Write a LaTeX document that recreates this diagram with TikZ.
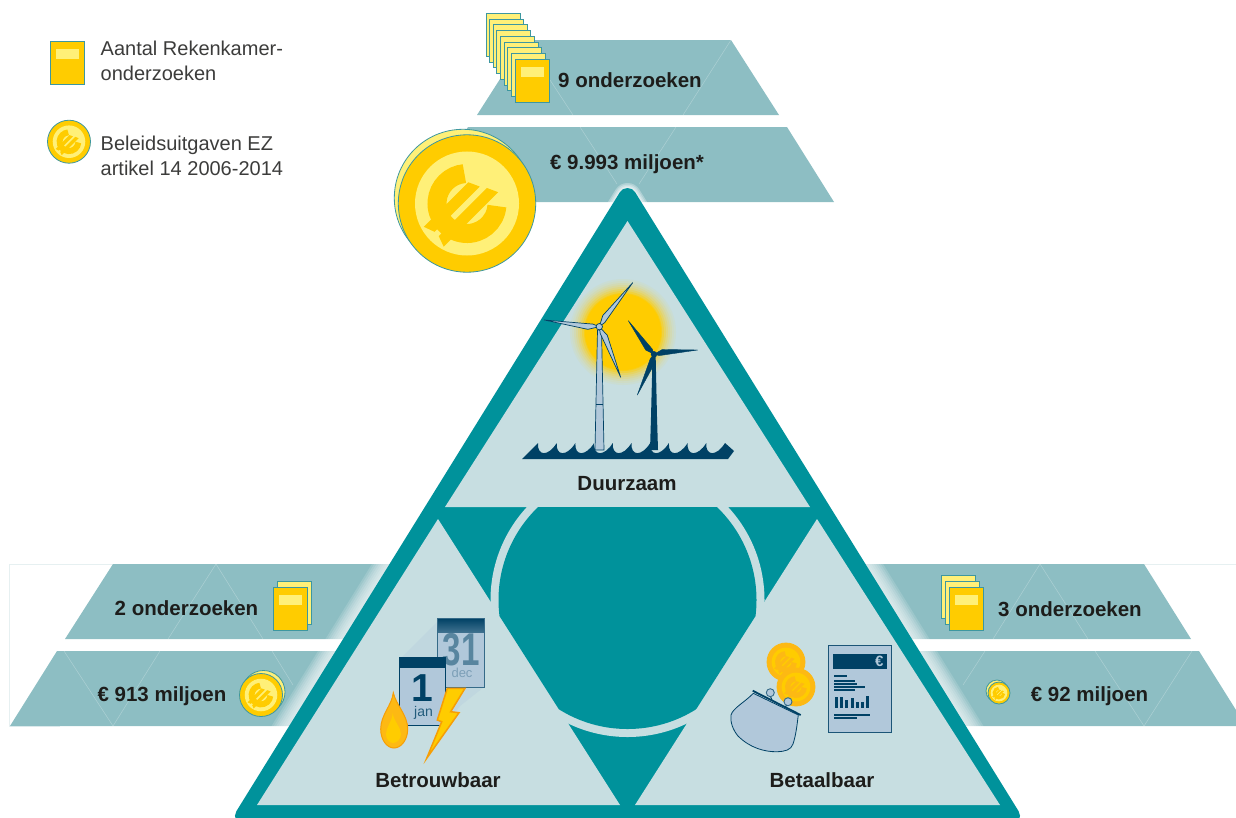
\documentclass[tikz,border=0pt]{standalone}
\usepackage{fontspec}
\setmainfont{Liberation Sans}
\usetikzlibrary{calc}
\definecolor{teal0}{HTML}{00929B}
\definecolor{pale0}{HTML}{C7DEE1}
\definecolor{strip0}{HTML}{8DBEC3}
\definecolor{coinY}{HTML}{FFCC00}
\definecolor{coinL}{HTML}{FFF078}
\definecolor{edge0}{HTML}{3D97A0}
\definecolor{navy0}{HTML}{004165}
\definecolor{steel0}{HTML}{B1C8DA}
\definecolor{ink0}{HTML}{1D1D1B}
\definecolor{ink1}{HTML}{3C3C3B}
\definecolor{orange0}{HTML}{F39200}
\definecolor{orange1}{HTML}{FDB913}
\definecolor{frame0}{HTML}{E6F0F1}
\tikzset{
  boldlab/.style={font=\fontsize{20.5}{24}\selectfont\bfseries,text=ink0,anchor=base,inner sep=0pt},
  leglab/.style={font=\fontsize{20}{24}\selectfont,text=ink1,anchor=base west,inner sep=0pt},
  gridline/.style={white,opacity=.28,line width=.5pt},
  striparea/.style={fill=strip0},
  paperback/.style={fill=coinL,draw=edge0,line width=.8pt},
  paperfront/.style={fill=coinY,draw=edge0,line width=.8pt},
  bladelight/.style={fill=steel0,draw=navy0,line width=.7pt,line join=round},
  bladedark/.style={fill=navy0,draw=navy0,line width=.4pt,line join=round},
  bar0/.style={fill=navy0}
}
\newcommand\backfolder[2]{\filldraw[paperback] (#1,#2) rectangle ++(34,43);}
\newcommand\frontfolder[2]{\filldraw[paperfront] (#1,#2) rectangle ++(34,43);\fill[coinL] (#1+6,#2+8) rectangle ++(23,10);}
\newcommand\coinbase[7]{%
  \filldraw[fill=#4,draw=#5,line width=.8pt] (#1,#2) circle[radius=#3];
  \fill[#6] (#1,#2) circle[radius=.757*#3];
  \begin{scope}[shift={(#1,#2)},rotate=45,scale=#3/68.7]
    \draw[#7,line width={19*#3/68.7*1pt}] (50:30) arc[start angle=50,end angle=310,radius=30];
    \fill[#7] (-47,-14) -- (16,-14) -- (21,-3) -- (-43,-3) -- cycle;
    \fill[#7] (-43,3) -- (25,3) -- (30,14) -- (-47,14) -- cycle;
  \end{scope}}
\newcommand\goldcoin[3]{\coinbase{#1}{#2}{#3}{coinY}{edge0}{coinL}{coinY}}
\newcommand\purecoin[3]{\coinbase{#1}{#2}{#3}{orange1}{orange1}{coinY}{orange1}}
\newcommand\backcoin[3]{\filldraw[fill=coinL,draw=edge0,line width=.8pt] (#1,#2) circle[radius=#3];}
\newcommand\blade[5]{\path[#5] (#1,#2) -- ($(#1,#2)!.2!(#3,#4)!4pt!90:(#3,#4)$) -- (#3,#4) -- ($(#1,#2)!.12!(#3,#4)!-1.8pt!90:(#3,#4)$) -- cycle;}
\begin{document}
\begin{tikzpicture}[x=1pt,y=-1pt]
\clip (0,0) rectangle (1236,817);
% faint frames
\draw[frame0,line width=.7pt] (113,564) -- (9.5,564) -- (9.5,726) -- (60,726);
\draw[frame0,line width=.7pt] (1144,564) -- (1236,564);
% strips
\fill[striparea] (525,40) -- (731,40) -- (779,115) -- (477,115) -- cycle;
\fill[striparea] (468,127) -- (787,127) -- (834,202) -- (421,202) -- cycle;
\fill[striparea] (113,564) -- (500,564) -- (500,639) -- (65,639) -- cycle;
\fill[striparea] (57,651) -- (500,651) -- (500,726) -- (10,726) -- cycle;
\fill[striparea] (760,564) -- (1144,564) -- (1191,639) -- (760,639) -- cycle;
\fill[striparea] (760,651) -- (1199,651) -- (1246,726) -- (760,726) -- cycle;
% grid lines
\draw[gridline] (731,40) -- (683,115);
\draw[gridline] (550,80) -- (573,115);
\draw[gridline] (580,127) -- (617,184);
\draw[gridline] (676,127) -- (639,184);
\draw[gridline] (168,639) -- (216,564) -- (263,639);
\draw[gridline] (64,651) -- (113,726) -- (160,651);
\draw[gridline] (272,651) -- (293,685);
\draw[gridline] (993,639) -- (1040,564) -- (1088,639);
\draw[gridline] (985,651) -- (963,685);
\draw[gridline] (1095,651) -- (1144,726) -- (1192,651);
% fading halo round the triangle
\coordinate (apexT) at (627.5,197);
\coordinate (cornerL) at (244,816);
\coordinate (cornerR) at (1011,816);
\begin{scope}
\clip (0,520) rectangle (1236,817);
\foreach \w in {48,44,40,36,32,28,24,20}
  \draw[white,opacity=.14,line width=\w pt,line join=round] (apexT) -- (cornerL) -- (cornerR) -- cycle;
\end{scope}
\begin{scope}
\clip (0,0) rectangle (1236,300);
\foreach \w in {28,25,22,20}
  \draw[white,opacity=.3,line width=\w pt,line join=round] (apexT) -- (cornerL) -- (cornerR) -- cycle;
\end{scope}
% main triangle
\filldraw[teal0,line width=18pt,line join=round] (apexT) -- (cornerL) -- (cornerR) -- cycle;
\fill[pale0] (627.5,221) -- (810,507) -- (445,507) -- cycle;
\fill[pale0] (438,519) -- (620,805) -- (257,805) -- cycle;
\fill[pale0] (817,519) -- (635,805) -- (1000,805) -- cycle;
\begin{scope}
\clip (400,507) rectangle (860,800);
\fill[pale0] (627.5,600) circle[radius=137];
\end{scope}
\begin{scope}
\clip (430,507) -- (825,507) -- (627.5,817) -- cycle;
\fill[teal0] (627.5,600) circle[radius=129];
\end{scope}
% top stack of folders and big coin
\foreach \i in {0,...,7} {\backfolder{486+3.6*\i}{13.3+5.75*\i}}
\frontfolder{515}{59.3}
\backcoin{463}{198}{68.7}
\goldcoin{467}{203.5}{68.7}
% left icons
\backfolder{277}{581}
\frontfolder{273}{587}
\backcoin{263.5}{692}{21.5}
\goldcoin{261}{695}{21.5}
% right icons
\backfolder{941.5}{575}
\backfolder{945.2}{581}
\frontfolder{949}{587}
\backcoin{997}{691}{11}
\goldcoin{999}{693}{11}
% legend
\frontfolder{50.3}{41}
\goldcoin{69}{141.7}{21.5}
\node[leglab] (leg1) at (100.5,55) {Aantal Rekenkamer-};
\node[leglab] (leg2) at (100.5,80) {onderzoeken};
\node[leglab] (leg3) at (100.5,150) {Beleidsuitgaven EZ};
\node[leglab] (leg4) at (100.5,175) {artikel 14 2006-2014};
% strip labels
\node[boldlab] (t1) at (630,87.3) {9 onderzoeken};
\node[boldlab] (t2) at (627,169) {€ 9.993 miljoen*};
\node[boldlab] (t3) at (186.5,615) {2 onderzoeken};
\node[boldlab] (t4) at (162,701) {€ 913 miljoen};
\node[boldlab] (t5) at (1070,616) {3 onderzoeken};
\node[boldlab] (t6) at (1089.5,701) {€ 92 miljoen};
\node[boldlab] (t7) at (627,490) {Duurzaam};
\node[boldlab] (t8) at (438,787) {Betrouwbaar};
\node[boldlab] (t9) at (822,787) {Betaalbaar};
% sun
\foreach \r/\m in {55/0,53/6,51/12,49/20,47/30,45/42,43/56,41/72,39/90,38/100}
  \fill[coinY!\m!pale0] (623,332) circle[radius=\r];
% turbines
\fill[steel0,draw=navy0,line width=.7pt] (595,450) -- (604,450) -- (601.5,330) -- (597.5,330) -- cycle;
\draw[navy0,line width=.8pt] (595.8,404.7) -- (603.2,404.7);
\blade{599.3}{326.7}{632.7}{282.7}{bladelight}
\blade{599.3}{326.7}{544.3}{320}{bladelight}
\blade{599.3}{326.7}{620.7}{377.3}{bladelight}
\filldraw[fill=steel0,draw=navy0,line width=.7pt] (599.3,326.7) circle[radius=3.2];
\fill[navy0] (650,450) -- (658,450) -- (657,417) -- (655.6,354) -- (652.6,354) -- (651,417) -- cycle;
\blade{654}{354.3}{628.3}{320.7}{bladedark}
\blade{654}{354.3}{697.7}{350}{bladedark}
\blade{654}{354.3}{637.3}{395}{bladedark}
\fill[navy0] (654,354.3) circle[radius=3.2];
% sea
\fill[navy0] (522,459) -- (538,443) \foreach \i in {0,...,9} { .. controls (537+18.7*\i,456) and (548+18.7*\i,457) .. (556.7+18.7*\i,443)} -- (734,451) -- (728,459) -- cycle;
% calendars
\fill[pale0!68!steel0] (437,622) -- (402,657) -- (445,726) -- (460,706) -- (484,687) -- cycle;
\fill[steel0] (437.3,618.3) rectangle (484.3,687);
\shade[top color=navy0,bottom color=navy0!65!steel0] (437.3,618.3) rectangle (484.3,632);
\draw[navy0!70!steel0,line width=.8pt] (437.3,618.3) rectangle (484.3,687);
\node[font=\fontsize{46}{46}\selectfont\bfseries,text=navy0!50!steel0,xscale=.72,anchor=base,inner sep=0pt] (d31) at (461,665) {31};
\node[font=\fontsize{13}{13}\selectfont,text=navy0!30!steel0,anchor=base,inner sep=0pt] (dec) at (462,677) {dec};
\filldraw[fill=steel0,draw=navy0,line width=.8pt] (399.3,657.3) rectangle (445.3,725.3);
\fill[navy0] (399.3,657.3) rectangle (445.3,668);
\node[font=\fontsize{39}{39}\selectfont\bfseries,text=navy0,anchor=base,inner sep=0pt] (d1) at (422,701.7) {1};
\node[font=\fontsize{14}{14}\selectfont,text=navy0!80!steel0,anchor=base,inner sep=0pt] (jan) at (423.5,716) {jan};
% flame
\fill[orange1,draw=orange0!70!orange1,line width=1pt] (393.3,692.7) .. controls (392,705) and (380.7,715) .. (380.7,729) .. controls (380.7,740) and (387,748) .. (394,748) .. controls (401,748) and (407.7,740) .. (407.7,729) .. controls (407.7,715) and (396,705) .. (393.3,692.7) -- cycle;
\fill[coinY] (392.7,713) .. controls (392,722) and (386,727) .. (386,734) .. controls (386,739) and (389,743) .. (393,743) .. controls (397,743) and (401,739) .. (401,734) .. controls (401,727) and (394,722) .. (392.7,713) -- cycle;
% bolt
\filldraw[fill=coinY,draw=orange0!70!orange1,line width=1.5pt,line join=miter] (447.3,688.3) -- (465,688.3) -- (450.7,711.7) -- (459,712.7) -- (426.7,758.3) -- (441.7,721.7) -- (437.3,720) -- cycle;
% coins and purse
\purecoin{786}{662}{19}
\purecoin{796}{687}{19}
\draw[navy0,line width=.9pt] (770.3,696) -- (772,700);
\draw[navy0,line width=.9pt] (788,705) -- (784,707);
\filldraw[fill=steel0,draw=navy0,line width=.8pt] (753.3,693.3) .. controls (745,702) and (733,708) .. (731,715) .. controls (730,722) and (733,730) .. (738,736) .. controls (750,748) and (765,752) .. (777,751.7) .. controls (785,751.5) and (791,750) .. (793,744) .. controls (796,735) and (797,725) .. (798.3,715) -- cycle;
\draw[navy0,line width=1.8pt] (752.7,690.7) -- (800.7,715);
\filldraw[fill=steel0,draw=navy0!70!steel0,line width=.9pt] (770.3,692.7) circle[radius=4];
\filldraw[fill=steel0,draw=navy0!70!steel0,line width=.9pt] (788,701.7) circle[radius=4];
% report
\filldraw[fill=steel0,draw=navy0!85!steel0,line width=1.4pt] (828.3,645.3) rectangle (891.7,732.3);
\fill[navy0] (833,654) rectangle (887,669);
\node[font=\fontsize{15}{15}\selectfont\bfseries,text=steel0,inner sep=0pt] (rep) at (879.3,661.5) {€};
\foreach \y/\xx in {138/381,153/405,162/411,171/435,180/405,254/450,264/411}
  \fill[bar0] (720+342/3,630+\y/3-.9) rectangle (720+\xx/3,630+\y/3+.9);
\foreach \xx/\yy in {350/202,365/200,380/210,397/205,412/215,427/217,442/198}
  \fill[bar0] (720+\xx/3-1.5,630+\yy/3) rectangle (720+\xx/3+1.5,630+235/3);
\end{tikzpicture}
\end{document}
